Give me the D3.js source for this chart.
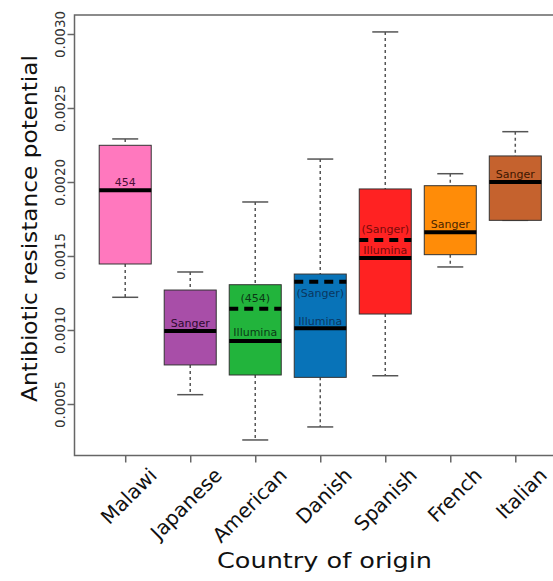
<!DOCTYPE html>
<html><head><meta charset="utf-8">
<script src="https://cdn.jsdelivr.net/npm/d3@7"></script>
<style>body{margin:0;background:#fff}svg{display:block}</style>
</head><body>
<script>
const categories = ["Malawi","Japanese","American","Danish","Spanish","French","Italian"];
const whiskerLow  = [0.001221,0.000563,0.000257,0.000345,0.000691,0.001426,0.001741];
const q1          = [0.001446,0.000764,0.000696,0.000680,0.001108,0.001509,0.001741];
const median      = [0.001944,0.000993,0.000926,0.001011,0.001486,0.001660,0.002000];
const q3          = [0.002248,0.001270,0.001306,0.001378,0.001953,0.001975,0.002176];
const whiskerHigh = [0.002291,0.001392,0.001865,0.002155,0.003014,0.002056,0.002340];
const altMedian   = [null,null,0.001144,0.001326,0.001608,null,null];
const mainLabel   = ["454","Sanger","Illumina","Illumina","Illumina","Sanger","Sanger"];
const altLabel    = [null,null,"(454)","(Sanger)","(Sanger)",null,null];
const colors      = ["#ff78be","#a84ea8","#22b43c","#0873b8","#ff2222","#ff8c08","#c5622e"];
const textColors  = ["#4a0e36","#2e0a30","#0b3a16","#0a3760","#7a0a0a","#4a2400","#3e1600"];
const yTicks = [0.0005,0.0010,0.0015,0.0020,0.0025,0.0030];

const W=553,H=581;
const svg=d3.select("body").append("svg").attr("width",W).attr("height",H);
const font="DejaVu Sans, Verdana, sans-serif";

const pLeft=74.5, pRight=566, pTop=15, pBottom=455.5;
const x=d3.scaleLinear().domain([0.22,7.78]).range([pLeft,pRight]);
const y=d3.scaleLinear().domain([0.0005,0.0030]).range([404,34]);
const bw=0.8*(x(2)-x(1));

// frame
svg.append("rect").attr("x",pLeft).attr("y",pTop).attr("width",pRight-pLeft).attr("height",pBottom-pTop)
  .attr("fill","none").attr("stroke","#666").attr("stroke-width",1.5);

// y axis
const yAxis=svg.append("g").attr("transform",`translate(${pLeft},0)`)
  .call(d3.axisLeft(y).tickValues(yTicks).tickSize(7).tickFormat(d3.format(".4f")));
yAxis.select(".domain").remove();
yAxis.selectAll("line").attr("stroke","#666").attr("stroke-width",1.5);
yAxis.selectAll("text").attr("transform","rotate(-90)").attr("x",0).attr("dy",0)
  .attr("y",-10).attr("text-anchor","middle").attr("font-size",13.5).attr("font-family",font).attr("fill","#333")
  .attr("textLength",47).attr("lengthAdjust","spacingAndGlyphs");

// x axis
const idx=categories.map((c,i)=>i+1);
const xAxis=svg.append("g").attr("transform",`translate(0,${pBottom})`)
  .call(d3.axisBottom(x).tickValues(idx).tickSize(7).tickFormat(""));
xAxis.select(".domain").remove();
xAxis.selectAll("line").attr("stroke","#666").attr("stroke-width",1.5);

svg.append("g").selectAll("text").data(categories).join("text")
  .attr("transform",(d,i)=>`translate(${x(i+1)+33},${pBottom+21}) rotate(-45)`)
  .attr("text-anchor","end").attr("font-size",20).attr("font-family",font).attr("fill","#111")
  .text(d=>d);

svg.append("text").attr("x",324.5).attr("y",568).attr("text-anchor","middle")
  .attr("font-size",22).attr("font-family",font).attr("fill","#111")
  .attr("textLength",215).attr("lengthAdjust","spacingAndGlyphs").text("Country of origin");
svg.append("text").attr("transform","translate(37,228.5) rotate(-90)").attr("text-anchor","middle")
  .attr("font-size",20.5).attr("font-family",font).attr("fill","#111")
  .attr("textLength",347).attr("lengthAdjust","spacingAndGlyphs").text("Antibiotic resistance potential");

// boxes
const g=svg.append("g");
categories.forEach((c,i)=>{
  const cx=x(i+1);
  g.append("line").attr("x1",cx).attr("x2",cx).attr("y1",y(whiskerHigh[i])).attr("y2",y(q3[i]))
    .attr("stroke","#555").attr("stroke-width",1.5).attr("stroke-dasharray","3,3");
  g.append("line").attr("x1",cx).attr("x2",cx).attr("y1",y(q1[i])).attr("y2",y(whiskerLow[i]))
    .attr("stroke","#555").attr("stroke-width",1.5).attr("stroke-dasharray","3,3");
  [whiskerHigh[i],whiskerLow[i]].forEach(v=>{
    g.append("line").attr("x1",cx-bw/4).attr("x2",cx+bw/4).attr("y1",y(v)).attr("y2",y(v))
      .attr("stroke","#555").attr("stroke-width",1.5);
  });
  g.append("rect").attr("x",cx-bw/2).attr("width",bw).attr("y",y(q3[i])).attr("height",y(q1[i])-y(q3[i]))
    .attr("fill",colors[i]).attr("stroke","#333").attr("stroke-width",1);
  g.append("line").attr("x1",cx-bw/2).attr("x2",cx+bw/2).attr("y1",y(median[i])).attr("y2",y(median[i]))
    .attr("stroke","#000").attr("stroke-width",4);
  g.append("text").attr("x",cx).attr("y",y(median[i])-(i===3?3:4.5)).attr("text-anchor","middle")
    .attr("font-size",11).attr("font-family",font).attr("fill",textColors[i]).text(mainLabel[i]);
  if(altMedian[i]!==null){
    g.append("line").attr("x1",cx-bw/2).attr("x2",cx+bw/2).attr("y1",y(altMedian[i])).attr("y2",y(altMedian[i]))
      .attr("stroke","#000").attr("stroke-width",4).attr("stroke-dasharray","9,6");
    const ly = i===3 ? y(altMedian[i])+15.5 : y(altMedian[i])-7;
    g.append("text").attr("x",cx).attr("y",ly).attr("text-anchor","middle")
      .attr("font-size",11).attr("font-family",font).attr("fill",textColors[i]).text(altLabel[i]);
  }
});
</script>
</body></html>
